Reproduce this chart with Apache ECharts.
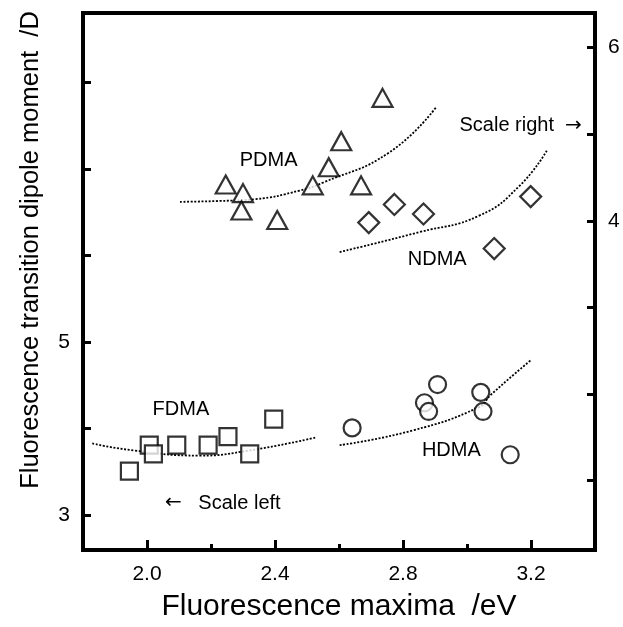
<!DOCTYPE html>
<html>
<head>
<meta charset="utf-8">
<script src="https://cdn.jsdelivr.net/npm/echarts@6/dist/echarts.min.js"></script>
<style>
  html, body { margin: 0; padding: 0; background: #fff; }
  #chart { width: 623px; height: 627px; }
</style>
</head>
<body>
<div id="chart"></div>
<script>
// Fluorescence maxima (eV) and transition dipole moments (D)
// PDMA and NDMA use the right-hand scale, FDMA and HDMA the left-hand scale.
const energyPDMA = [2.246, 2.300, 2.295, 2.407, 2.518, 2.568, 2.669, 2.607, 2.736];
const dipolePDMA = [4.42, 4.32, 4.12, 4.01, 4.41, 4.62, 4.41, 4.92, 5.42];

const energyNDMA = [2.693, 2.773, 2.864, 3.085, 3.199];
const dipoleNDMA = [3.98, 4.19, 4.08, 3.68, 4.28];

const energyFDMA = [1.945, 2.007, 2.020, 2.093, 2.191, 2.253, 2.321, 2.396];
const dipoleFDMA = [3.51, 3.81, 3.71, 3.81, 3.81, 3.91, 3.71, 4.11];

const energyHDMA = [2.641, 2.867, 2.880, 2.908, 3.043, 3.050, 3.135];
const dipoleHDMA = [4.01, 4.30, 4.20, 4.51, 4.42, 4.20, 3.70];

// Guide-line trends (dotted) for each compound
const trendPDMAx = [2.103, 2.228, 2.337, 2.477, 2.549, 2.757, 2.903];
const trendPDMAy = [4.22, 4.23, 4.25, 4.35, 4.44, 4.79, 5.31];
const trendNDMAx = [2.602, 2.851, 3.038, 3.163, 3.251];
const trendNDMAy = [3.64, 3.87, 4.06, 4.40, 4.82];
const trendFDMAx = [1.829, 1.957, 2.165, 2.321, 2.529];
const trendFDMAy = [3.83, 3.75, 3.69, 3.75, 3.90];
const trendHDMAx = [2.602, 2.830, 3.038, 3.074, 3.199];
const trendHDMAy = [3.81, 3.98, 4.25, 4.39, 4.79];

// Axis ticks and labels
const xMajorTicks = [2.0, 2.4, 2.8, 3.2];
const xMinorTicks = [2.2, 2.6, 3.0];
const leftTicks = [3, 4, 5, 6, 7, 8];
const leftLabels = [3, 5];
const rightTicks = [1, 2, 3, 4, 5, 6];
const rightLabels = [4, 6];

// In-plot annotations: [text, x, y, axis ('left'|'right'), align]
const notes = [
  ['PDMA', 2.380, 4.70, 'right', 'center'],
  ['NDMA', 2.907, 3.55, 'right', 'center'],
  ['Scale right  {arr|\u2192}', 3.359, 5.10, 'right', 'right'],
  ['FDMA', 2.106, 4.22, 'left', 'center'],
  ['HDMA', 2.951, 3.75, 'left', 'center'],
  ['{arr|\u2190}   Scale left', 2.056, 3.14, 'left', 'left']
];

const FONT = '"Liberation Sans", Arial, sans-serif';
const zip = (a, b) => a.map((v, i) => [v, b[i]]);

const markerStyle = { color: '#fff', borderColor: '#000', borderWidth: 2.2 };
const dotted = { color: '#000', width: 1.8, type: [2, 1.6] };

function trend(xs, ys, yIdx) {
  return {
    type: 'line', data: zip(xs, ys), yAxisIndex: yIdx, smooth: true,
    showSymbol: false, silent: true, z: 1, lineStyle: dotted
  };
}
function points(xs, ys, yIdx, symbol, size) {
  return {
    type: 'scatter', data: zip(xs, ys), yAxisIndex: yIdx, symbol: symbol,
    symbolSize: size, itemStyle: markerStyle, z: 3
  };
}

const chart = echarts.init(document.getElementById('chart'), null, { renderer: 'canvas' });

const tickLabel = { color: '#000', fontSize: 21, fontFamily: FONT };

chart.setOption({
  animation: false,
  backgroundColor: '#fff',
  grid: {
    left: 83, right: 28, top: 13, bottom: 75,
    show: true, borderColor: '#000', borderWidth: 4, backgroundColor: 'transparent'
  },
  xAxis: [
    {
      type: 'value', min: 1.8, max: 3.4, position: 'bottom',
      splitLine: { show: false },
      axisLine: { show: false },
      axisTick: { inside: true, length: 10, lineStyle: { color: '#000', width: 3 }, customValues: xMajorTicks },
      axisLabel: Object.assign({ margin: 14, customValues: xMajorTicks, formatter: v => v.toFixed(1) }, tickLabel),
      name: 'Fluorescence maxima  /eV', nameLocation: 'middle', nameGap: 42,
      nameTextStyle: { color: '#000', fontSize: 30, fontFamily: FONT }
    },
    {
      type: 'value', min: 1.8, max: 3.4, position: 'bottom', offset: 0,
      splitLine: { show: false },
      axisLine: { show: false },
      axisTick: { inside: true, length: 6, lineStyle: { color: '#000', width: 3 }, customValues: xMinorTicks },
      axisLabel: { show: false }
    }
  ],
  yAxis: [
    {
      type: 'value', min: 2.6, max: 8.8, position: 'left',
      splitLine: { show: false },
      axisLine: { show: false },
      axisTick: { inside: true, length: 8, lineStyle: { color: '#000', width: 3 }, customValues: leftTicks },
      axisLabel: Object.assign({ margin: 13, customValues: leftLabels }, tickLabel)
    },
    {
      type: 'value', min: 0.2, max: 6.4, position: 'right',
      splitLine: { show: false },
      axisLine: { show: false },
      axisTick: { inside: true, length: 8, lineStyle: { color: '#000', width: 3 }, customValues: rightTicks },
      axisLabel: Object.assign({ margin: 13, customValues: rightLabels }, tickLabel)
    }
  ],
  series: [
    trend(trendPDMAx, trendPDMAy, 1),
    trend(trendNDMAx, trendNDMAy, 1),
    trend(trendFDMAx, trendFDMAy, 0),
    trend(trendHDMAx, trendHDMAy, 0),
    points(energyPDMA, dipolePDMA, 1, 'triangle', [20, 18]),
    points(energyNDMA, dipoleNDMA, 1, 'diamond', [21, 21]),
    points(energyFDMA, dipoleFDMA, 0, 'rect', [17, 17]),
    points(energyHDMA, dipoleHDMA, 0, 'circle', 17)
  ]
});

// Axis title on the left and in-plot annotations, placed through the axes' scales
const graphics = [{
  type: 'text', x: 31, y: 250, rotation: Math.PI / 2,
  style: {
    text: 'Fluorescence transition dipole moment  /D',
    font: '25.5px ' + FONT, fill: '#000', align: 'center', verticalAlign: 'middle'
  }
}];
notes.forEach(([text, x, y, axis, align]) => {
  const p = chart.convertToPixel({ xAxisIndex: 0, yAxisIndex: axis === 'left' ? 0 : 1 }, [x, y]);
  graphics.push({
    type: 'text', x: p[0], y: p[1],
    style: {
      text: text, font: '20px ' + FONT, fill: '#000', align: align, verticalAlign: 'middle',
      rich: { arr: { fontFamily: '"DejaVu Sans", sans-serif', fontSize: 20, fill: '#000' } }
    }
  });
});
chart.setOption({ graphic: graphics });
</script>
</body>
</html>
